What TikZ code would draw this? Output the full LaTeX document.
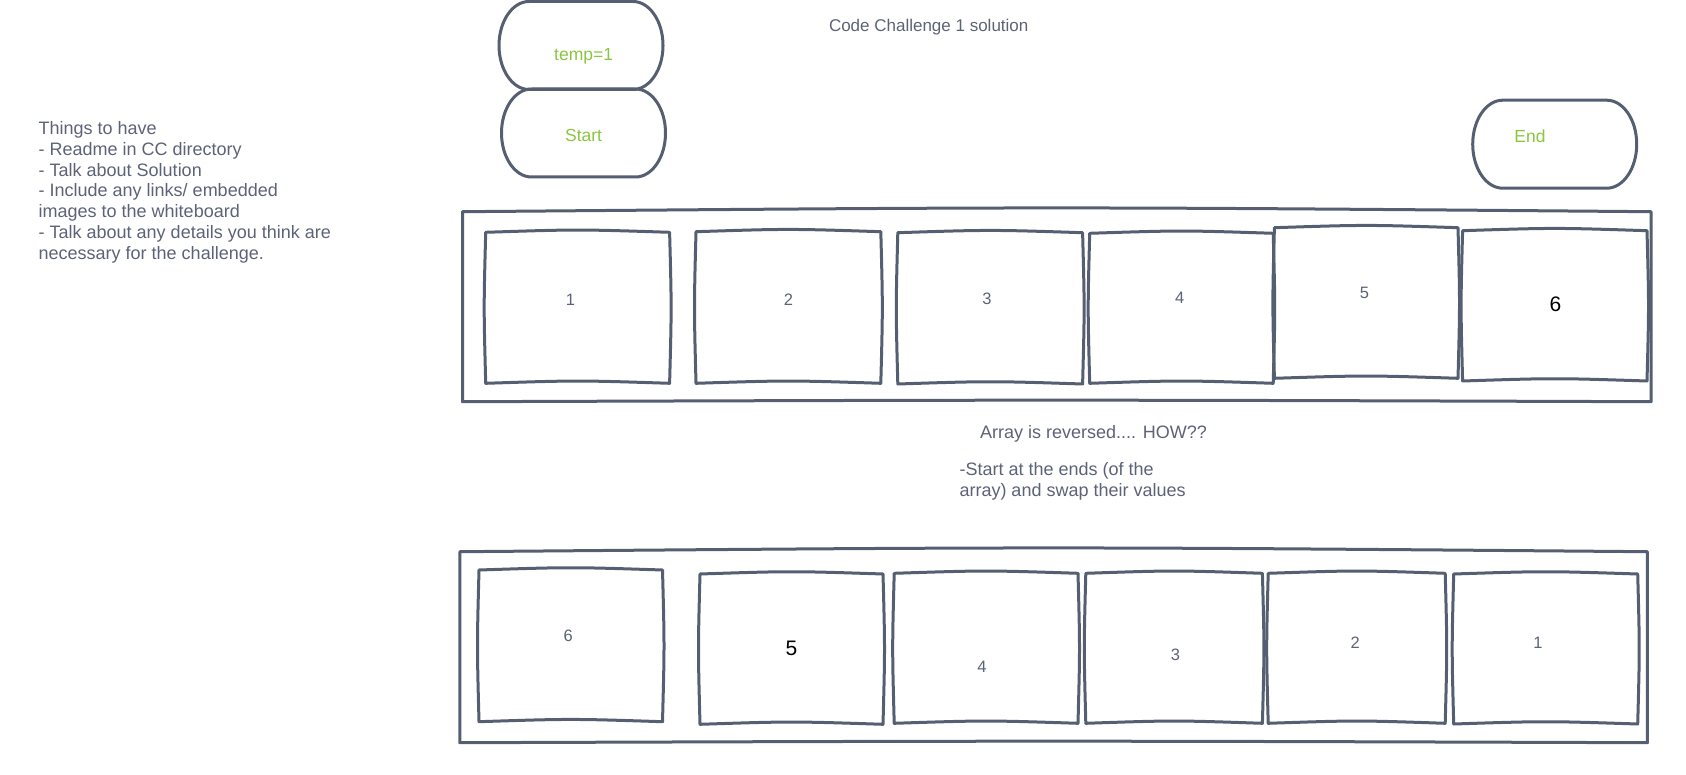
\documentclass[tikz,border=0pt]{standalone}
\usepackage{fontspec}
\setmainfont{Liberation Sans}
\definecolor{stroke}{HTML}{565E71}
\definecolor{txt}{HTML}{5C6378}
\definecolor{grn}{HTML}{8AC640}
\tikzset{
  sk/.style={draw=stroke, line width=3pt, line join=round, line cap=round},
  cellbox/.style={rectangle, draw=none, inner sep=0pt, outer sep=0pt},
  numlbl/.style={text=txt, inner sep=0pt, font=\fontsize{16.5pt}{19pt}\selectfont},
  biglbl/.style={text=black, inner sep=0pt, font=\fontsize{21pt}{24pt}\selectfont},
  glbl/.style={text=grn, inner sep=0pt, font=\fontsize{17.5pt}{20pt}\selectfont},
  note/.style={text=txt, inner sep=0pt, align=left, font=\fontsize{18pt}{20.8pt}\selectfont},
}
\newcommand\mkcell[5]{%
  \node[cellbox, minimum width=#4pt, minimum height=#5pt] (#1) at (#2,#3) {};
  \draw[sk] (#1.north west) .. controls ([yshift=3pt]#1.north) .. (#1.north east)
    .. controls ([xshift=2pt]#1.east) .. (#1.south east)
    .. controls ([yshift=3pt]#1.south) .. (#1.south west)
    .. controls ([xshift=-2pt]#1.west) .. (#1.north west);}
\newcommand\mkstad[3]{%
  \node[cellbox, minimum width=164pt, minimum height=88pt] (#1) at (#2,#3) {};
  \draw[sk] ([xshift=30pt]#1.north west) -- ([xshift=-30pt]#1.north east)
    arc[start angle=90, end angle=0, x radius=30pt, y radius=44pt]
    arc[start angle=0, end angle=-90, x radius=30pt, y radius=44pt]
    -- ([xshift=30pt]#1.south west)
    arc[start angle=270, end angle=180, x radius=30pt, y radius=44pt]
    arc[start angle=180, end angle=90, x radius=30pt, y radius=44pt];}
\begin{document}
\begin{tikzpicture}[x=1pt,y=-1pt]
\useasboundingbox (0,0) rectangle (1686,775);

% left notes
\node[note, anchor=north west] (notes) at (38.5,121.3) {Things to have\\
- Readme in CC directory\\
- Talk about Solution\\
- Include any links/ embedded\\
images to the whiteboard\\
- Talk about any details you think are\\
necessary for the challenge.};

% title
\node[text=txt, inner sep=0pt, font=\fontsize{17pt}{20pt}\selectfont] (title) at (928.7,26.7) {Code Challenge 1 solution};

% stadiums
\mkstad{temp}{581}{45.5}
\node[glbl] (templ) at (583.6,55.8) {temp=1};
\mkstad{start}{583.5}{133}
\node[glbl] (startl) at (583.6,135.8) {Start};
\mkstad{end}{1554.7}{144.2}
\node[glbl] (endl) at (1530,136) {End};

% top array
\node[cellbox, minimum width=1188.5pt, minimum height=190pt] (top) at (1056.75,306.7) {};
\draw[sk] (top.north west) .. controls ([yshift=5pt]top.north) .. (top.north east) -- (top.south east)
  .. controls ([yshift=2pt]top.south) .. (top.south west) -- (top.north west);
\mkcell{t1}{577.65}{307.8}{183.9}{151}
\mkcell{t2}{788.4}{307.5}{184.8}{151.6}
\mkcell{t3}{990.2}{308.35}{184.8}{151.3}
\mkcell{t4}{1181.45}{308.3}{183.5}{150}
\mkcell{t5}{1366.2}{303}{183.6}{150.6}
\mkcell{t6}{1554.8}{305.85}{184.4}{150.3}
\node[numlbl] (t1l) at (570.5,300) {1};
\node[numlbl] (t2l) at (788.4,299.3) {2};
\node[numlbl] (t3l) at (987,299.3) {3};
\node[numlbl] (t4l) at (1179.7,298.3) {4};
\node[numlbl] (t5l) at (1364.4,293.3) {5};
\node[biglbl] (t6l) at (1555.4,304) {6};

% middle text
\node[note, anchor=base west] (how) at (980,438.3) {Array is reversed.... HOW??};
\node[note, anchor=base west] (swap1) at (959.3,475.7) {-Start at the ends (of the};
\node[note, anchor=base west] (swap2) at (959.3,496) {array) and swap their values};

% bottom array
\node[cellbox, minimum width=1187.6pt, minimum height=191pt] (bot) at (1053.6,647.2) {};
\draw[sk] (bot.north west) .. controls ([yshift=5pt]bot.north) .. (bot.north east) -- (bot.south east)
  .. controls ([yshift=2pt]bot.south) .. (bot.south west) -- (bot.north west);
\mkcell{b6}{570.75}{645.85}{183.5}{151.7}
\mkcell{b5}{791.5}{649.15}{183}{150.3}
\mkcell{b4}{986.1}{648.3}{183.8}{150}
\mkcell{b3}{1174.1}{648.3}{176.6}{150}
\mkcell{b2}{1356.7}{648.3}{177}{150}
\mkcell{b1}{1545.7}{649}{184}{150}
\node[numlbl] (b6l) at (568.3,636) {6};
\node[biglbl] (b5l) at (791.5,648.3) {5};
\node[numlbl] (b4l) at (982,667.3) {4};
\node[numlbl] (b3l) at (1175.5,655) {3};
\node[numlbl] (b2l) at (1355.2,642.7) {2};
\node[numlbl] (b1l) at (1538,642.7) {1};
\end{tikzpicture}
\end{document}
